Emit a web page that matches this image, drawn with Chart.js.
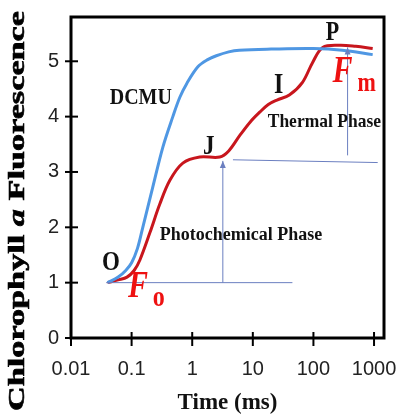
<!DOCTYPE html>
<html><head><meta charset="utf-8">
<script src="https://cdn.jsdelivr.net/npm/chart.js@4/dist/chart.umd.min.js"></script>
<style>html,body{margin:0;padding:0;background:#fff;}#wrap{width:399px;height:417px;position:relative;}</style>
</head><body><div id="wrap"><canvas id="c"></canvas></div>
<script>
// ---- data ----
const xTickValues = [0.01, 0.1, 1, 10, 100, 1000];
const xTickLabels = ['0.01', '0.1', '1', '10', '100', '1000'];
const yTickValues = [0, 1, 2, 3, 4, 5];
const seriesNames = ['OJIP', 'DCMU'];
const ojipTimes  = [0.04, 0.06, 0.084, 0.11, 0.137, 0.2, 0.292, 0.428, 0.7, 1.33, 2.85, 4, 6.1, 9, 13, 18, 25, 40, 66, 97, 142, 270, 500, 950];
const ojipValues = [1.0, 1.05, 1.1, 1.22, 1.41, 1.9, 2.42, 2.85, 3.16, 3.27, 3.27, 3.38, 3.66, 3.9, 4.08, 4.22, 4.3, 4.39, 4.62, 4.98, 5.25, 5.29, 5.27, 5.23];
const dcmuTimes  = [0.04, 0.06, 0.08, 0.1, 0.125, 0.153, 0.224, 0.328, 0.479, 0.625, 0.815, 1.24, 1.8, 2.5, 4, 6, 20, 100, 300, 950];
const dcmuValues = [1.0, 1.1, 1.22, 1.36, 1.62, 2.0, 2.73, 3.45, 4.0, 4.35, 4.6, 4.9, 5.03, 5.1, 5.17, 5.2, 5.22, 5.23, 5.2, 5.12];

const serif = '"Liberation Serif", "Times New Roman", serif';
const sans = '"Liberation Sans", Arial, sans-serif';
const RED = '#c8161d', BLUE = '#4f97e3', GUIDE = '#6b7fc0', FRED = '#ee1111';

const overlay = {
  id: 'overlay',
  afterDatasetsDraw(chart) {
    const ctx = chart.ctx, a = chart.chartArea;
    const xs = chart.scales.x, ys = chart.scales.y;
    const X = v => xs.getPixelForValue(v), Y = v => ys.getPixelForValue(v);
    ctx.save();
    // guide lines
    ctx.strokeStyle = GUIDE; ctx.fillStyle = GUIDE; ctx.lineWidth = 1;
    const line = (x1, y1, x2, y2) => { ctx.beginPath(); ctx.moveTo(X(x1), Y(y1)); ctx.lineTo(X(x2), Y(y2)); ctx.stroke(); };
    const arrowUp = (x, y) => { const px = X(x), py = Y(y); ctx.beginPath(); ctx.moveTo(px, py); ctx.lineTo(px - 3, py + 7); ctx.lineTo(px + 3, py + 7); ctx.closePath(); ctx.fill(); };
    line(0.038, 1.0, 45, 1.0);
    line(3.2, 1.0, 3.2, 3.2); arrowUp(3.2, 3.2);
    line(4.7, 3.22, 1150, 3.17);
    line(366, 3.3, 366, 5.25); arrowUp(366, 5.25);
    // box
    ctx.strokeStyle = '#000'; ctx.lineWidth = 3;
    ctx.strokeRect(a.left, a.top, a.right - a.left, a.bottom - a.top);
    // crossing ticks
    ctx.lineWidth = 2;
    yTickValues.forEach(v => { const py = Y(v); ctx.beginPath(); ctx.moveTo(a.left - 6, py); ctx.lineTo(a.left + 7, py); ctx.stroke(); });
    xTickValues.forEach(v => { const px = X(v); ctx.beginPath(); ctx.moveTo(px, a.bottom - 6); ctx.lineTo(px, a.bottom + 8); ctx.stroke(); });
    // texts
    const txt = (s, x, y, font, color, align, base, sy) => {
      ctx.save(); ctx.translate(X(x), Y(y)); ctx.scale(1, sy || 1.2);
      ctx.font = font; ctx.fillStyle = color; ctx.textAlign = align; ctx.textBaseline = base;
      ctx.fillText(s, 0, 0); ctx.restore();
    };
    txt('DCMU', 0.142, 4.33, 'bold 20px ' + serif, '#111', 'center', 'middle', 1.15);
    txt('O', 0.0456, 1.35, 'bold 23px ' + serif, '#111', 'center', 'middle');
    txt('J', 1.87, 3.45, 'bold 23px ' + serif, '#111', 'center', 'middle');
    txt('I', 26.7, 4.57, 'bold 24px ' + serif, '#111', 'center', 'middle');
    txt('P', 207, 5.5, 'bold 22px ' + serif, '#111', 'center', 'middle');
    txt('Thermal Phase', 17.6, 3.9, 'bold 17.5px ' + serif, '#111', 'left', 'middle', 1.1);
    txt('Photochemical Phase', 0.292, 1.86, 'bold 18px ' + serif, '#111', 'left', 'middle', 1.1);
    txt('F', 0.087, 0.74, 'italic bold 30px ' + serif, FRED, 'left', 'alphabetic', 1.25);
    txt('o', 0.224, 0.58, 'bold 24px ' + serif, FRED, 'left', 'alphabetic', 1.2);
    txt('F', 207, 4.62, 'italic bold 30px ' + serif, FRED, 'left', 'alphabetic', 1.25);
    txt('m', 535, 4.46, 'bold 22px ' + serif, FRED, 'left', 'alphabetic', 1.2);
    // y title with italic a
    const parts = [['Chlorophyll ', 'bold 23px ' + serif], ['a', 'italic bold 23px ' + serif], [' Fluorescence', 'bold 23px ' + serif]];
    let w = 0; parts.forEach(p => { ctx.font = p[1]; w += ctx.measureText(p[0]).width; });
    ctx.save(); ctx.translate(24, 211); ctx.rotate(-Math.PI / 2); ctx.scale(400 / w, 1);
    ctx.fillStyle = '#000'; ctx.strokeStyle = '#000'; ctx.lineWidth = 0.6; ctx.textBaseline = 'alphabetic'; ctx.textAlign = 'left';
    let cx = -w / 2; parts.forEach(p => { ctx.font = p[1]; ctx.fillText(p[0], cx, 0); ctx.strokeText(p[0], cx, 0); cx += ctx.measureText(p[0]).width; });
    ctx.restore();
    ctx.restore();
  }
};

const noPad = s => { s.paddingLeft = 0; s.paddingRight = 0; s.paddingTop = 0; s.paddingBottom = 0; };

new Chart(document.getElementById('c'), {
  type: 'line',
  data: {
    datasets: [
      { label: seriesNames[1], data: dcmuTimes.map((t, i) => ({ x: t, y: dcmuValues[i] })), borderColor: BLUE, borderWidth: 3, pointRadius: 0, tension: 0.35, fill: false },
      { label: seriesNames[0], data: ojipTimes.map((t, i) => ({ x: t, y: ojipValues[i] })), borderColor: RED, borderWidth: 3, pointRadius: 0, tension: 0.35, fill: false }
    ]
  },
  options: {
    responsive: true, maintainAspectRatio: false, animation: false,
    layout: { padding: { left: 0, top: 17, right: 15, bottom: 0 } },
    plugins: { legend: { display: false }, tooltip: { enabled: false } },
    scales: {
      x: {
        type: 'logarithmic', min: 0.01, max: 1460,
        afterBuildTicks: s => { s.ticks = xTickValues.map(v => ({ value: v })); },
        afterFit: s => { s.height = 79; noPad(s); },
        grid: { display: false, drawTicks: false }, border: { display: false },
        ticks: { callback: (v) => xTickLabels[xTickValues.indexOf(v)] ?? '', font: { family: sans, size: 20 }, color: '#222', padding: 19, maxRotation: 0, autoSkip: false },
        title: { display: true, text: 'Time (ms)', font: { family: serif, size: 23, weight: 'bold' }, color: '#111', padding: { top: 0, bottom: 0 } }
      },
      y: {
        type: 'linear', min: 0, max: 5.8,
        afterBuildTicks: s => { s.ticks = yTickValues.map(v => ({ value: v })); },
        afterFit: s => { s.width = 71; noPad(s); },
        grid: { display: false, drawTicks: false }, border: { display: false },
        ticks: { font: { family: sans, size: 20 }, color: '#222', padding: 12 }
      }
    }
  },
  plugins: [overlay]
});
</script></body></html>
